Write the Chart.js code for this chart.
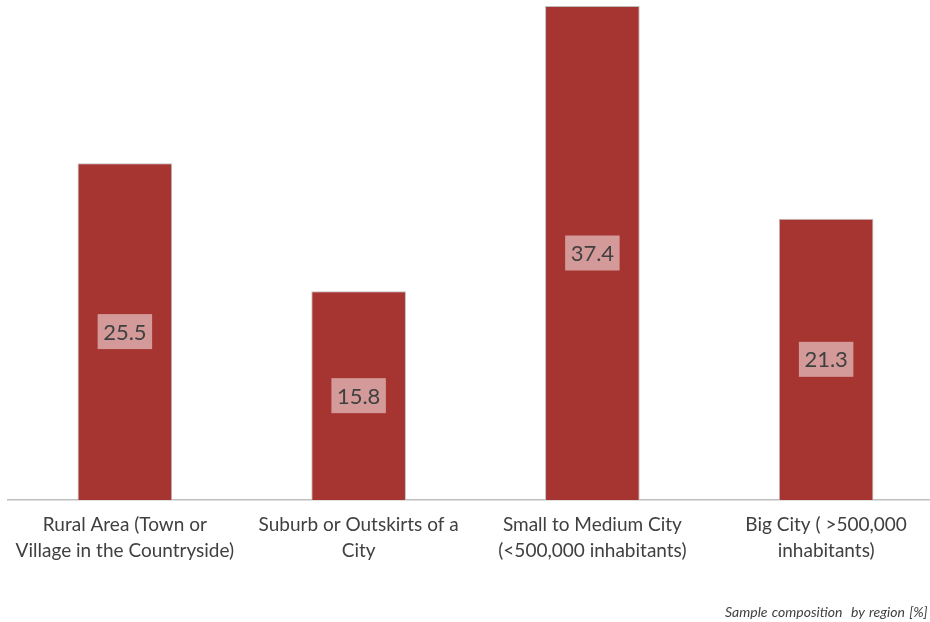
<!DOCTYPE html>
<html>
<head>
<meta charset="utf-8">
<script src="https://cdn.jsdelivr.net/npm/chart.js@4/dist/chart.umd.min.js"></script>
<style>
    html, body { margin: 0; padding: 0; background: #ffffff; overflow: hidden; }
    .wrap { position: relative; width: 945px; height: 622px; }
    .footnote {
        position: absolute; left: 725px; top: 603px;
        font-family: Lato, sans-serif; font-style: italic; font-size: 14px;
        color: #404040; white-space: nowrap; word-spacing: 1px;
    }
</style>
</head>
<body>
<div class="wrap">
    <canvas id="regionChart" width="945" height="622"></canvas>
    <div class="footnote">Sample composition&nbsp; by region [%]</div>
</div>
<script>
// Categories (two-line labels) and values
const categories = [
    ['Rural Area (Town or', 'Village in the Countryside)'],
    ['Suburb or Outskirts of a', 'City'],
    ['Small to Medium City', '(<500,000 inhabitants)'],
    ['Big City ( >500,000', 'inhabitants)']
];
const shares = [25.5, 15.8, 37.4, 21.3];

// Simple centered value labels with a translucent box
const valueLabels = {
    id: 'valueLabels',
    afterDatasetsDraw(chart) {
        const ctx = chart.ctx;
        const meta = chart.getDatasetMeta(0);
        ctx.save();
        ctx.font = '22px Lato, sans-serif';
        ctx.textAlign = 'center';
        ctx.textBaseline = 'middle';
        meta.data.forEach((bar, i) => {
            const text = shares[i].toFixed(1);
            const cx = bar.x;
            const cy = (bar.y + bar.base) / 2;
            const w = ctx.measureText(text).width + 11;
            const h = 35;
            ctx.fillStyle = 'rgba(255, 255, 255, 0.5)';
            ctx.fillRect(cx - w / 2, cy - h / 2, w, h);
            ctx.fillStyle = '#404040';
            ctx.fillText(text, cx, cy + 1);
        });
        ctx.restore();
    }
};

new Chart(document.getElementById('regionChart'), {
    type: 'bar',
    data: {
        labels: categories,
        datasets: [{
            data: shares,
            backgroundColor: '#A63532',
            borderColor: '#BFBFBF',
            borderWidth: 1,
            barPercentage: 0.405,
            categoryPercentage: 1.0
        }]
    },
    options: {
        responsive: false,
        animation: false,
        layout: { padding: { left: 8, right: 2, top: 6, bottom: 0 } },
        plugins: {
            legend: { display: false },
            tooltip: { enabled: false }
        },
        scales: {
            x: {
                grid: { display: false },
                border: { display: true, color: '#BFBFBF', width: 1.5 },
                ticks: {
                    color: '#404040',
                    font: { family: 'Lato, sans-serif', size: 19, lineHeight: 1.37 },
                    padding: 4,
                    maxRotation: 0,
                    autoSkip: false
                },
                afterFit(scale) { scale.height = 122; }
            },
            y: {
                display: false,
                min: 0,
                max: 37.4
            }
        }
    },
    plugins: [valueLabels]
});
</script>
</body>
</html>
